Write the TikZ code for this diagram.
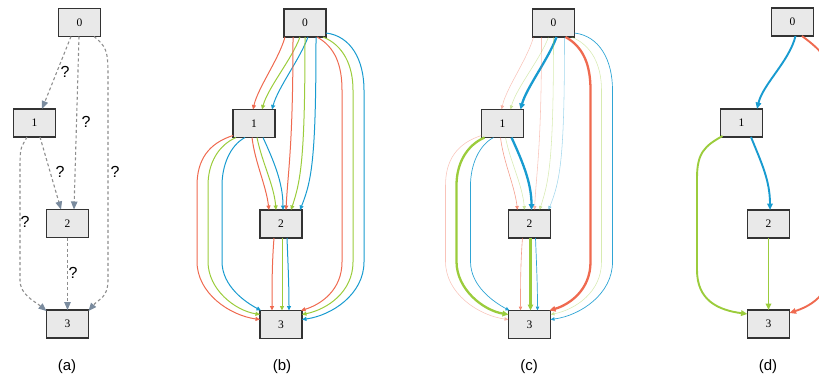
\documentclass[tikz,border=0pt]{standalone}
\usepackage{fontspec}
\setmainfont{Liberation Serif}
\newfontfamily\labelfont{Liberation Sans}
\usetikzlibrary{arrows.meta,calc}

\definecolor{ered}{HTML}{EF6A50}
\definecolor{egreen}{HTML}{9BCC3C}
\definecolor{eblue}{HTML}{189BD0}
\definecolor{boxfill}{HTML}{E9E9E9}
\definecolor{boxline}{HTML}{333333}
\definecolor{dashgray}{HTML}{8E8E8E}
\definecolor{tipgray}{HTML}{7A8B9E}

\tikzset{
  vbox/.style={draw=boxline, fill=boxfill, line width=1.4pt,
    minimum width=42pt, minimum height=28pt, inner sep=0pt,
    font=\fontsize{11.5}{13}\selectfont},
  qedge/.style={draw=dashgray, line width=1.1pt, dash pattern=on 3pt off 2.5pt,
    -{Triangle[length=8pt,width=6.5pt,color=tipgray]}},
  qmark/.style={font=\labelfont\fontsize{16}{18}\selectfont, inner sep=0pt},
  panel/.style={font=\labelfont\fontsize{15}{18}\selectfont, inner sep=0pt},
  % edge weights
  full/.style={line width=1pt, -{Triangle[length=4.5pt,width=4pt]}},
  strong/.style={line width=2.3pt, -{Triangle[length=6pt,width=5.5pt]}},
  mid/.style={line width=0.7pt, opacity=0.9, -{Triangle[length=4pt,width=3.5pt]}},
  weak/.style={line width=0.6pt, opacity=0.65, -{Triangle[length=4pt,width=3.5pt]}},
  faint/.style={line width=0.55pt, opacity=0.4, -{Triangle[length=4pt,width=3.5pt]}},
  chosen/.style={line width=1.9pt, -{Triangle[length=6.5pt,width=5.5pt]}},
  % panel (b): every candidate edge at full weight
  bR01/.style=full, bG01/.style=full, bB01/.style=full,
  bR02/.style=full, bG02/.style=full, bB02/.style=full,
  bR03/.style=full, bG03/.style=full, bB03/.style=full,
  bR12/.style=full, bG12/.style=full, bB12/.style=full,
  bR13/.style=full, bG13/.style=full, bB13/.style=full,
  bR23/.style=full, bG23/.style=full, bB23/.style=full,
  % panel (c): learned weights
  cR01/.style=faint, cG01/.style=faint, cB01/.style=strong,
  cR02/.style=faint, cG02/.style=faint, cB02/.style=faint,
  cR03/.style=strong, cG03/.style=faint, cB03/.style=mid,
  cR12/.style=weak, cG12/.style=faint, cB12/.style=strong,
  cR13/.style=faint, cG13/.style=strong, cB13/.style=mid,
  cR23/.style=weak, cG23/.style=strong, cB23/.style=mid,
}

% three coloured edges for every pair of nodes #1-0 ... #1-3
\newcommand\edgebundle[1]{%
  % 0 -> 1
  \draw[ered,#1R01] ($(#1-0)+(-20,14)$) .. controls +(-6,22) and +(5,-22) .. ($(#1-1)+(-1,-14)$);
  \draw[egreen,#1G01] ($(#1-0)+(-5,14)$) .. controls +(-8,22) and +(6,-22) .. ($(#1-1)+(8,-14)$);
  \draw[eblue,#1B01] ($(#1-0)+(3,14)$) .. controls +(-8,22) and +(6,-22) .. ($(#1-1)+(18,-14)$);
  % 0 -> 2
  \draw[ered,#1R02] ($(#1-0)+(-12,14)$) .. controls +(0,110) and +(2,-40) .. ($(#1-2)+(5,-14)$);
  \draw[egreen,#1G02] ($(#1-0)+(0,14)$) .. controls +(0,120) and +(10,-30) .. ($(#1-2)+(10,-14)$);
  \draw[eblue,#1B02] ($(#1-0)+(11,14)$) .. controls +(0,120) and +(12,-30) .. ($(#1-2)+(19,-14)$);
  % 1 -> 2
  \draw[ered,#1R12] ($(#1-1)+(-2,14)$) .. controls +(3,25) and +(-3,-25) .. ($(#1-2)+(-12,-14)$);
  \draw[egreen,#1G12] ($(#1-1)+(3,14)$) .. controls +(5,25) and +(-2,-25) .. ($(#1-2)+(-5,-14)$);
  \draw[eblue,#1B12] ($(#1-1)+(9,14)$) .. controls +(10,22) and +(0,-28) .. ($(#1-2)+(2,-14)$);
  % 2 -> 3
  \draw[ered,#1R23] ($(#1-2)+(-7,14)$) .. controls +(-2,25) and +(0,-25) .. ($(#1-3)+(-9,-14)$);
  \draw[egreen,#1G23] ($(#1-2)+(1,14)$) -- ($(#1-3)+(1,-14)$);
  \draw[eblue,#1B23] ($(#1-2)+(6,14)$) .. controls +(1,25) and +(0,-25) .. ($(#1-3)+(8,-14)$);
  % 1 -> 3, round the left
  \draw[ered,#1R13] ($(#1-1)+(-21,12)$) .. controls +(-25,8) and +(0,-25) .. ($(#1-1)+(-57,62)$)
      -- ++(0,76) .. controls +(0,32) and +(-30,-4) .. ($(#1-3)+(-21,-5)$);
  \draw[egreen,#1G13] ($(#1-1)+(-18,14)$) .. controls +(-18,8) and +(0,-22) .. ($(#1-1)+(-46,62)$)
      -- ++(0,76) .. controls +(0,28) and +(-25,-4) .. ($(#1-3)+(-21,-10)$);
  \draw[eblue,#1B13] ($(#1-1)+(-9,14)$) .. controls +(-15,8) and +(0,-20) .. ($(#1-1)+(-32,62)$)
      -- ++(0,76) .. controls +(0,25) and +(-15,-8) .. ($(#1-3)+(-20,-14)$);
  % 0 -> 3, round the right
  \draw[ered,#1R03] ($(#1-0)+(12,14)$) .. controls +(18,10) and +(0,-25) .. ($(#1-0)+(37,67)$)
      -- ++(0,172) .. controls +(0,28) and +(20,-6) .. ($(#1-3)+(20,-14)$);
  \draw[egreen,#1G03] ($(#1-0)+(18,14)$) .. controls +(20,8) and +(0,-25) .. ($(#1-0)+(48,67)$)
      -- ++(0,172) .. controls +(0,30) and +(25,-5) .. ($(#1-3)+(21,-10)$);
  \draw[eblue,#1B03] ($(#1-0)+(21,10)$) .. controls +(25,3) and +(0,-30) .. ($(#1-0)+(59,67)$)
      -- ++(0,172) .. controls +(0,32) and +(30,-4) .. ($(#1-3)+(21,-5)$);
}

\begin{document}
\begin{tikzpicture}[x=1pt,y=-1pt]
\useasboundingbox (0,0) rectangle (819,381);
\clip (0,0) rectangle (819,381);

% ---------- (a) unknown structure ----------
\node[vbox] (a-0) at (79.5,22.5) {0};
\node[vbox] (a-1) at (34.5,123) {1};
\node[vbox] (a-2) at (67.5,223.5) {2};
\node[vbox] (a-3) at (67.5,324) {3};
\draw[qedge] ($(a-0)+(-8.5,14)$) -- ($(a-1)+(7.5,-14)$);
\draw[qedge] ($(a-0)+(-0.5,14)$) -- ($(a-2)+(6.5,-14)$);
\draw[qedge] ($(a-0)+(14.5,14)$) .. controls +(12,10) and +(0,-25) .. ($(a-0)+(28.5,52.5)$)
    -- ++(0,205) .. controls +(0,18) and +(10,-12) .. ($(a-3)+(21,-13)$);
\draw[qedge] ($(a-1)+(5.5,14)$) -- ($(a-2)+(-6.5,-14)$);
\draw[qedge] ($(a-1)+(-7.5,14)$) .. controls +(-5,10) and +(0,-20) .. ($(a-1)+(-14.5,42)$)
    -- ++(0,115) .. controls +(0,15) and +(-12,-10) .. ($(a-3)+(-21,-13)$);
\draw[qedge] ($(a-2)+(0,14)$) -- ($(a-3)+(0,-14)$);
\node[qmark] (q01) at (65,72) {?};
\node[qmark] (q02) at (86,122) {?};
\node[qmark] (q03) at (115,172) {?};
\node[qmark] (q12) at (60,172) {?};
\node[qmark] (q13) at (25,222) {?};
\node[qmark] (q23) at (73,273) {?};
\node[panel] (la) at (67,367) {(a)};

% ---------- (b) all candidate operations ----------
\node[vbox] (b-0) at (305,23) {0};
\node[vbox] (b-1) at (254,123.5) {1};
\node[vbox] (b-2) at (281,224) {2};
\node[vbox] (b-3) at (281,324.5) {3};
\edgebundle{b}
\node[panel] (lb) at (282,367) {(b)};

% ---------- (c) weighted operations ----------
\node[vbox] (c-0) at (553.5,23) {0};
\node[vbox] (c-1) at (502.5,123.5) {1};
\node[vbox] (c-2) at (529.5,224) {2};
\node[vbox] (c-3) at (529.5,324.5) {3};
\edgebundle{c}
\node[panel] (lc) at (529,367) {(c)};

% ---------- (d) derived cell ----------
\node[vbox] (d-0) at (792.5,22) {0};
\node[vbox] (d-1) at (741.5,123) {1};
\node[vbox] (d-2) at (768.5,224) {2};
\node[vbox] (d-3) at (768.5,324) {3};
\draw[eblue,chosen] ($(d-0)+(3,14)$) .. controls +(-6,25) and +(6,-25) .. ($(d-1)+(15.5,-14)$);
\draw[eblue,chosen] ($(d-1)+(9.5,14)$) .. controls +(10,25) and +(0,-30) .. ($(d-2)+(1.5,-14)$);
\draw[egreen,chosen] ($(d-1)+(-19,13)$) .. controls +(-18,10) and +(0,-25) .. ($(d-1)+(-44.5,55)$)
    -- ++(0,92) .. controls +(0,30) and +(-30,-4) .. ($(d-3)+(-21,-10)$);
\draw[egreen,chosen] ($(d-2)+(0,14)$) -- ($(d-3)+(0,-14)$);
\draw[ered,chosen] ($(d-0)+(9.5,14)$) .. controls +(20,15) and +(0,-35) .. ($(d-0)+(42,75)$)
    -- ++(0,150) .. controls +(0,40) and +(30,-10) .. ($(d-3)+(21,-11)$);
\node[panel] (ld) at (768,367) {(d)};
\end{tikzpicture}
\end{document}
